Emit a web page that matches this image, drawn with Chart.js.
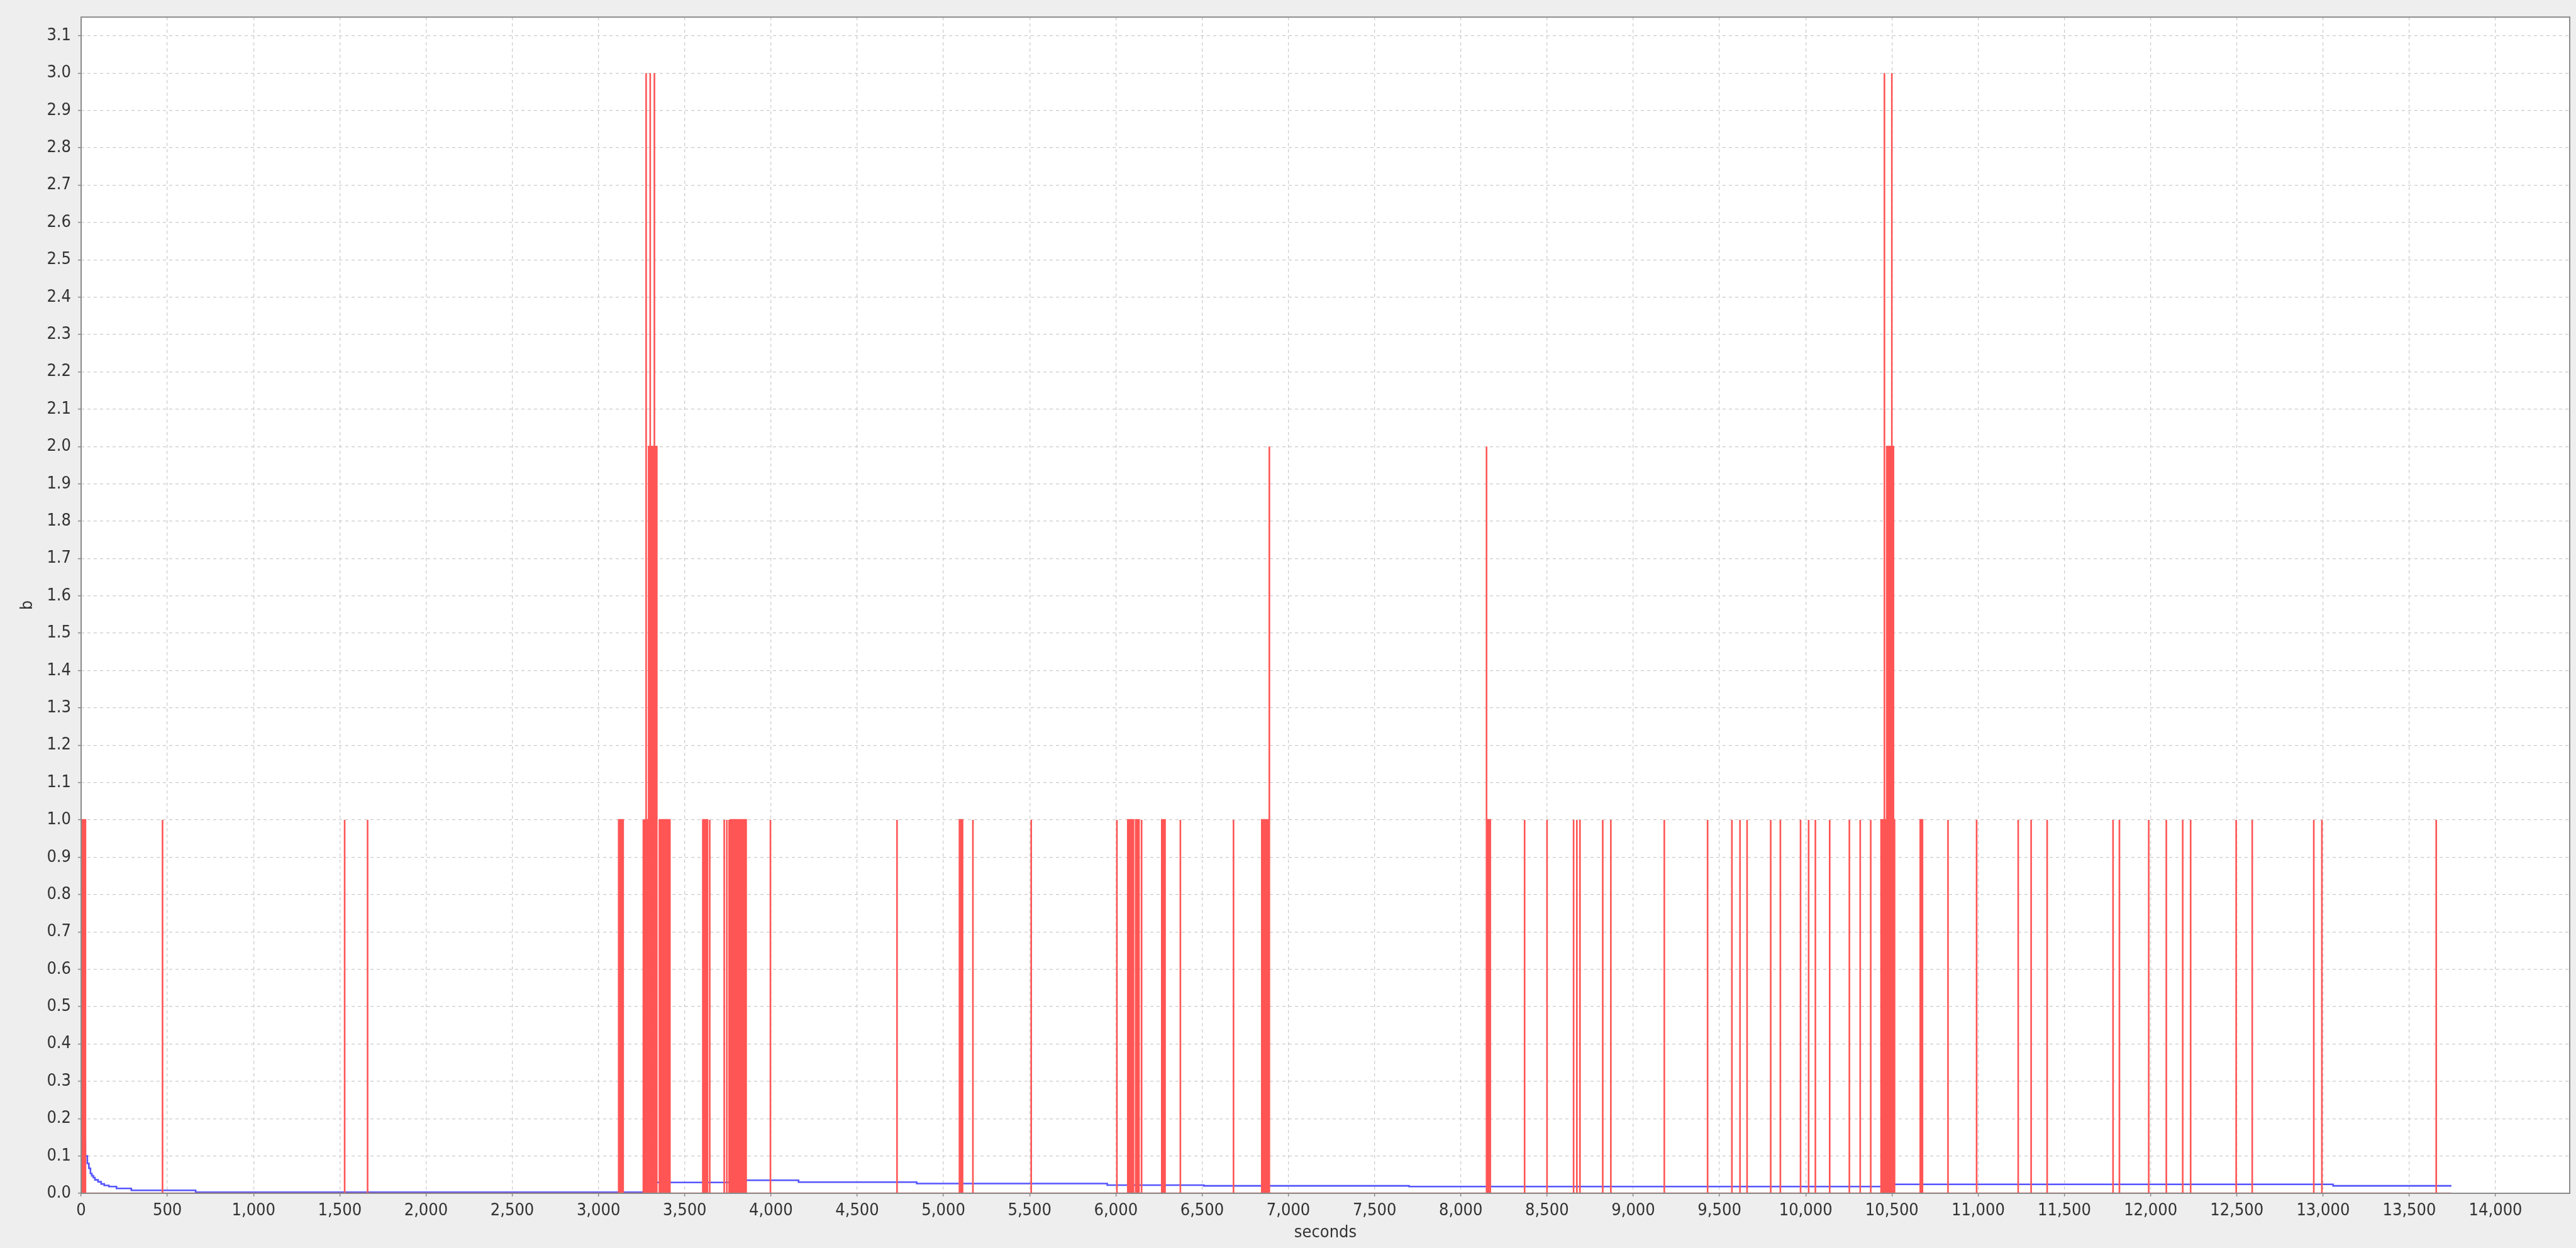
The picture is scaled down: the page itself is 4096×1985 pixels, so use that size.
<!DOCTYPE html>
<html>
<head>
<meta charset="utf-8">
<script src="https://cdn.jsdelivr.net/npm/chart.js@4.4.1/dist/chart.umd.min.js"></script>
<style>
  html, body { margin: 0; padding: 0; background: #eeeeee; overflow: hidden; }
  canvas { display: block; }
</style>
</head>
<body>
<canvas id="graph" width="4096" height="1985"></canvas>
<script>
// red series: intervals [start, end] (seconds) and their height
const spikeStart  = [2, 472, 1528, 1661, 3117, 3260, 3266, 3276, 3277, 3291, 3300, 3301, 3324, 3325, 3353, 3605, 3645, 3729, 3744, 3757, 3766, 3997, 4731, 5093, 5171, 5509,
                     6006, 6069, 6115, 6149, 6266, 6374, 6682, 6846, 6890, 8149, 8150, 8370, 8500, 8654, 8673, 8691, 8823, 8870, 9180, 9431, 9572, 9619, 9660, 9797, 9853,
                     9970, 10017, 10056, 10139, 10253, 10316, 10377, 10437, 10456, 10457, 10470, 10499, 10500, 10509, 10664, 10825, 10991, 11232, 11307, 11400,
                     11782, 11819, 11989, 12091, 12186, 12232, 12496, 12589, 12946, 12993, 13656];
const spikeEnd    = [25, 472, 1528, 1661, 3143, 3260, 3275, 3276, 3290, 3299, 3300, 3323, 3324, 3338, 3414, 3632, 3645, 3729, 3744, 3757, 3856, 3997, 4731, 5111, 5171, 5509,
                     6006, 6102, 6134, 6149, 6285, 6374, 6682, 6889, 6890, 8149, 8171, 8370, 8500, 8654, 8673, 8691, 8823, 8870, 9180, 9431, 9572, 9619, 9660, 9797, 9853,
                     9970, 10017, 10056, 10139, 10253, 10316, 10377, 10455, 10456, 10469, 10498, 10499, 10508, 10515, 10677, 10825, 10991, 11232, 11307, 11400,
                     11782, 11819, 11989, 12091, 12186, 12232, 12496, 12589, 12946, 12993, 13656];
const spikeHeight = [1, 1, 1, 1, 1, 1, 1, 3, 1, 2, 3, 2, 3, 2, 1, 1, 1, 1, 1, 1, 1, 1, 1, 1, 1, 1,
                     1, 1, 1, 1, 1, 1, 1, 1, 2, 2, 1, 1, 1, 1, 1, 1, 1, 1, 1, 1, 1, 1, 1, 1, 1,
                     1, 1, 1, 1, 1, 1, 1, 1, 3, 1, 2, 3, 2, 1, 1, 1, 1, 1, 1, 1,
                     1, 1, 1, 1, 1, 1, 1, 1, 1, 1, 1];
const seriesEnd = 13744;

// blue series: step values, each holds until the next time
const avgTime  = [0, 8, 13, 22, 25, 36, 45, 54, 62, 71, 80, 98, 116, 134, 161, 205, 291, 664,
                  3270, 3280, 3290, 3300, 3310, 3320, 3330, 3800, 4160, 4845, 5950, 6510, 7700, 10480, 13058, 13744];
const avgValue = [0.2, 0.05, 0.1, 0.14, 0.1, 0.08, 0.067, 0.053, 0.047, 0.042, 0.036, 0.031, 0.025, 0.021, 0.018, 0.013, 0.008, 0.003,
                  0.003, 0.008, 0.013, 0.018, 0.023, 0.027, 0.029, 0.035, 0.030, 0.026, 0.022, 0.020, 0.018, 0.024, 0.020, 0.020];

// axis ranges and tick steps
const xMax = 14430;
const yMax = 3.15;
const xTickStep = 500;
const yTickStep = 0.1;

window.addEventListener("load", function () {

    // spike list -> line points (fill to zero makes the dense blocks)
    let redPts = [{x: 0, y: 0}];
    for (let i = 0; i < spikeStart.length; i++) {
        redPts.push({x: spikeStart[i], y: 0});
        redPts.push({x: spikeStart[i], y: spikeHeight[i]});
        redPts.push({x: spikeEnd[i], y: spikeHeight[i]});
        redPts.push({x: spikeEnd[i], y: 0});
    }
    redPts.push({x: seriesEnd, y: 0});

    let bluePts = avgTime.map((t, i) => ({x: t, y: avgValue[i]}));

    const font = "'DejaVu Sans Condensed', 'Liberation Sans Narrow', 'DejaVu Sans', sans-serif";

    // grey frame + white plot
    const frame = {
        id: "frame",
        beforeDraw(chart) {
            const c = chart.ctx, a = chart.chartArea;
            c.save();
            c.fillStyle = "#eeeeee";
            c.fillRect(0, 0, chart.width, chart.height);
            c.fillStyle = "#ffffff";
            c.fillRect(a.left, a.top, a.right - a.left, a.bottom - a.top);
            c.restore();
        },
        afterDraw(chart) {
            const c = chart.ctx, a = chart.chartArea;
            c.save();
            c.strokeStyle = "#8a8a8a";
            c.lineWidth = 2;
            c.strokeRect(a.left, a.top, a.right - a.left, a.bottom - a.top);
            c.restore();
        }
    };

    // ticks only on whole steps (chart.js would otherwise spread them to the max)
    function stepTicks(step) {
        return function (s) {
            let t = [];
            for (let i = 0; i * step <= s.max + 1e-9; i++) {
                t.push({value: Math.round(i * step * 1000) / 1000});
            }
            s.ticks = t;
        };
    }

    const ctx = document.getElementById("graph").getContext("2d");
    const myChart = new Chart(ctx, {
        type: "line",
        data: {
            datasets: [{
                label: "b",
                data: redPts,
                borderColor: "#ff5555",
                backgroundColor: "#ff5555",
                borderWidth: 2.6,
                fill: "origin",
                pointRadius: 0,
                tension: 0
            }, {
                label: "avg",
                data: bluePts,
                borderColor: "#5555ff",
                borderWidth: 2.6,
                fill: false,
                stepped: true,
                pointRadius: 0,
                tension: 0
            }]
        },
        options: {
            responsive: false,
            animation: false,
            devicePixelRatio: 1,
            parsing: false,
            layout: { padding: { top: 15, right: 10, left: 0, bottom: 0 } },
            plugins: { legend: { display: false }, tooltip: { enabled: false } },
            scales: {
                x: {
                    type: "linear",
                    min: 0,
                    max: xMax,
                    afterBuildTicks: stepTicks(xTickStep),
                    afterFit: function (s) { s.height = 87; },
                    grid: { color: "#cccccc", lineWidth: 1.3, tickColor: "#888888", tickLength: 5, tickWidth: 1.5 },
                    border: { display: false, dash: [5, 5] },
                    ticks: {
                        autoSkip: false,
                        maxRotation: 0,
                        padding: 7,
                        color: "#333333",
                        font: { family: font, size: 27 },
                        callback: v => v.toLocaleString("en-US")
                    },
                    title: { display: true, text: "seconds", color: "#333333", font: { family: font, size: 27 }, padding: { top: 0, bottom: 8 } }
                },
                y: {
                    min: 0,
                    max: yMax,
                    afterBuildTicks: stepTicks(yTickStep),
                    afterFit: function (s) { s.width = 129; },
                    grid: { color: "#cccccc", lineWidth: 1.3, tickColor: "#888888", tickLength: 5, tickWidth: 1.5 },
                    border: { display: false, dash: [5, 5] },
                    ticks: {
                        autoSkip: false,
                        padding: 11,
                        color: "#333333",
                        font: { family: font, size: 27 },
                        callback: v => v.toFixed(1)
                    },
                    title: { display: true, text: "b", color: "#333333", font: { family: font, size: 27 }, padding: { top: 28, bottom: 0 } }
                }
            }
        },
        plugins: [frame]
    });
});
</script>
</body>
</html>
